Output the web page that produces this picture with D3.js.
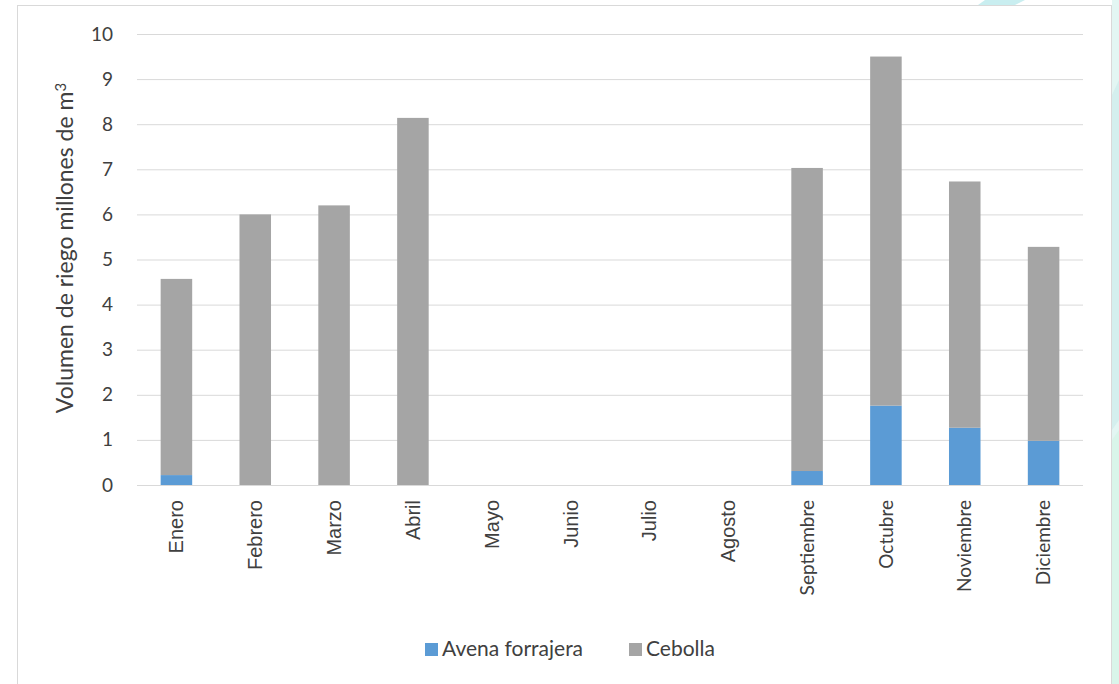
<!DOCTYPE html>
<html>
<head>
<meta charset="utf-8">
<script src="https://cdn.jsdelivr.net/npm/d3@7"></script>
<style>
  body { margin: 0; background: #fff; }
  svg text { fill: #404040; }
</style>
</head>
<body>
<div id="chart"></div>
<script>
// months on the x axis
const months = ["Enero", "Febrero", "Marzo", "Abril", "Mayo", "Junio", "Julio",
  "Agosto", "Septiembre", "Octubre", "Noviembre", "Diciembre"];
// stacked series (millones de m3)
const avena = [0.22, 0, 0, 0, 0, 0, 0, 0, 0.31, 1.76, 1.27, 0.98];
const cebolla = [4.35, 6.0, 6.2, 8.14, 0, 0, 0, 0, 6.72, 7.74, 5.46, 4.3];
const yTicks = [0, 1, 2, 3, 4, 5, 6, 7, 8, 9, 10];
const seriesNames = ["Avena forrajera", "Cebolla"];
const colors = ["#5B9BD5", "#A5A5A5"];

const W = 1119, H = 684;
const margin = { top: 34, right: 36, bottom: 199, left: 137 };
const width = W - margin.left - margin.right;
const height = H - margin.top - margin.bottom;

const root = d3.select("#chart").append("svg")
  .attr("width", W)
  .attr("height", H);

// faint teal decoration behind the chart box (right edge)
const deco = root.append("g");
deco.append("rect").attr("x", 1112).attr("y", 0).attr("width", 7).attr("height", H)
  .attr("fill", "#e3f6f3");
deco.append("polygon").attr("points", "1112,95 1119,80 1119,420 1112,430").attr("fill", "#d4efee");
deco.append("polygon").attr("points", "1112,440 1119,430 1119,684 1112,684").attr("fill", "#d9f5ea");
deco.append("polygon").attr("points", "978,5 985,0 1025,0 1015,5").attr("fill", "#c9eef0");

// chart border
root.append("rect")
  .attr("x", 17.5).attr("y", 5.5)
  .attr("width", 1094).attr("height", 690)
  .attr("fill", "#fff")
  .attr("stroke", "#D9D9D9");

const svg = root.append("g")
  .attr("transform", `translate(${margin.left},${margin.top})`);

const x = d3.scaleBand()
  .domain(months)
  .range([0, width])
  .paddingInner(0.6)
  .paddingOuter(0.3);

const y = d3.scaleLinear()
  .domain([0, 10])
  .range([height, 0]);

// gridlines
svg.append("g")
  .selectAll("line")
  .data(yTicks)
  .enter()
  .append("line")
  .attr("x1", 0)
  .attr("x2", width)
  .attr("y1", (d) => y(d) + 0.5)
  .attr("y2", (d) => y(d) + 0.5)
  .style("stroke", "#D9D9D9");

// stacked bars
const table = months.map((m, i) => ({ month: m, avena: avena[i], cebolla: cebolla[i] }));
const stacked = d3.stack().keys(["avena", "cebolla"])(table);

svg.selectAll(".layer")
  .data(stacked)
  .enter()
  .append("g")
  .attr("fill", (d, i) => colors[i])
  .selectAll("rect")
  .data((d) => d)
  .enter()
  .append("rect")
  .attr("x", (d) => x(d.data.month))
  .attr("width", x.bandwidth())
  .attr("y", (d) => y(d[1]))
  .attr("height", (d) => y(d[0]) - y(d[1]));

// y axis
const yAxis = svg.append("g")
  .call(d3.axisLeft(y).tickValues(yTicks).tickSize(0).tickPadding(24));
yAxis.select(".domain").remove();
yAxis.selectAll("text")
  .style("font-family", "Lato, 'Open Sans', sans-serif")
  .style("font-size", "19px")
  .style("fill", "#404040");

// x axis
const xAxis = svg.append("g")
  .attr("transform", `translate(0,${height})`)
  .call(d3.axisBottom(x).tickSize(0).tickPadding(0));
xAxis.select(".domain").remove();
xAxis.selectAll("text")
  .attr("transform", "rotate(-90)")
  .attr("x", -15)
  .attr("y", 0)
  .attr("dy", "0.35em")
  .style("text-anchor", "end")
  .style("font-family", (d, i) => i < 8 ? "'Liberation Sans', Arial, sans-serif" : "Lato, sans-serif")
  .style("font-size", (d, i) => i < 8 ? "20px" : "19px")
  .style("fill", "#404040");

// y axis title
const title = svg.append("text")
  .attr("transform", `translate(${65 - margin.left},${248 - margin.top}) rotate(-90)`)
  .attr("dy", "0.35em")
  .style("text-anchor", "middle")
  .style("font-family", "Lato, sans-serif")
  .style("font-size", "23px");
title.append("tspan").text("Volumen de riego millones de m");
title.append("tspan").attr("dy", "-0.45em").style("font-size", "15px").text("3");

// legend
const legend = root.append("g")
  .attr("transform", "translate(425,649)");
const legendX = [0, 204];
seriesNames.forEach((name, i) => {
  const g = legend.append("g").attr("transform", `translate(${legendX[i]},0)`);
  g.append("rect")
    .attr("x", 0).attr("y", -6)
    .attr("width", 13).attr("height", 13)
    .attr("fill", colors[i]);
  g.append("text")
    .attr("x", 17)
    .attr("dy", "0.35em")
    .style("font-family", "Lato, sans-serif")
    .style("font-size", "21px")
    .text(name);
});
</script>
</body>
</html>
